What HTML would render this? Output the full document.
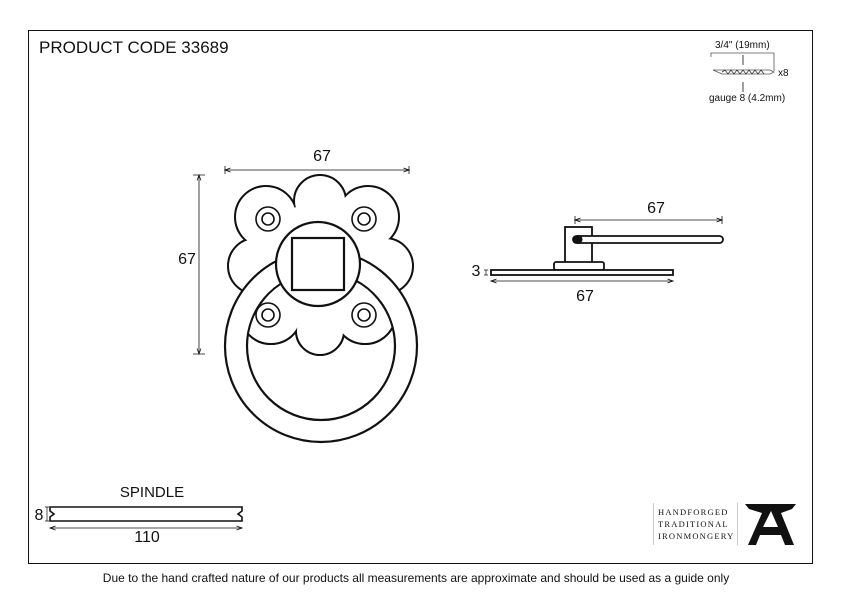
<!DOCTYPE html>
<html><head><style>
body{margin:0;width:842px;height:596px;background:#fff;overflow:hidden}
svg{display:block}
text{font-family:"Liberation Sans",sans-serif;fill:#111}
</style></head><body>
<svg width="842" height="596" viewBox="0 0 842 596">
<defs>
<marker id="a" markerWidth="8" markerHeight="6" refX="7" refY="3" orient="auto-start-reverse"><path d="M0,0.5 L7,3 L0,5.5" fill="none" stroke="#111" stroke-width="1"/></marker>
</defs>
<rect x="28.5" y="30.5" width="784" height="533" fill="none" stroke="#111" stroke-width="1"/>
<text x="39" y="53" font-size="17">PRODUCT CODE 33689</text>

<!-- screw legend -->
<text x="715" y="48" font-size="10">3/4" (19mm)</text>
<path d="M711,57 V53 H774 V71" fill="none" stroke="#555" stroke-width="0.8"/>
<path d="M743,55 V65" stroke="#111" stroke-width="0.8"/>
<path d="M713,70 L722,74 H770 L774,72 L770,70 H722 Z" fill="none" stroke="#555" stroke-width="0.8"/>
<path d="M722,72 l3,-2 l3,4 l3,-4 l3,4 l3,-4 l3,4 l3,-4 l3,4 l3,-4 l3,4 l3,-4 l3,4 l3,-4 l3,4" fill="none" stroke="#333" stroke-width="0.8"/>
<text x="778" y="76" font-size="10">x8</text>
<path d="M743,92 V82" stroke="#111" stroke-width="0.8"/>
<text x="709" y="101" font-size="10">gauge 8 (4.2mm)</text>

<!-- front view dims -->
<line x1="225" y1="170" x2="409" y2="170" stroke="#111" stroke-width="0.8" marker-start="url(#a)" marker-end="url(#a)"/>
<path d="M225,166V174M409,166V174" stroke="#111" stroke-width="0.8"/>
<text x="322" y="161" font-size="16" text-anchor="middle">67</text>
<line x1="199" y1="175" x2="199" y2="354" stroke="#111" stroke-width="0.8" marker-start="url(#a)" marker-end="url(#a)"/>
<path d="M193,175H205M193,354H205" stroke="#111" stroke-width="0.8"/>
<text x="187" y="264" font-size="16" text-anchor="middle">67</text>

<!-- plate union -->
<g stroke="#111" stroke-width="4" fill="#111">
<circle cx="320" cy="201" r="25"/><circle cx="266" cy="217" r="30"/><circle cx="368" cy="217" r="30"/>
<circle cx="256" cy="266" r="27"/><circle cx="385" cy="266" r="27"/>
<circle cx="271" cy="313" r="30"/><circle cx="365" cy="313" r="30"/><circle cx="320" cy="331" r="23"/>
<circle cx="318" cy="265" r="62"/>
</g>
<g fill="#fff">
<circle cx="320" cy="201" r="25"/><circle cx="266" cy="217" r="30"/><circle cx="368" cy="217" r="30"/>
<circle cx="256" cy="266" r="27"/><circle cx="385" cy="266" r="27"/>
<circle cx="271" cy="313" r="30"/><circle cx="365" cy="313" r="30"/><circle cx="320" cy="331" r="23"/>
<circle cx="318" cy="265" r="62"/>
</g>
<!-- holes -->
<g fill="none" stroke="#111" stroke-width="1.6">
<circle cx="268" cy="219" r="12"/><circle cx="268" cy="219" r="6"/>
<circle cx="364" cy="219" r="12"/><circle cx="364" cy="219" r="6"/>
</g>
<!-- ring -->
<path d="M225,346 a96,96 0 1,0 192,0 a96,96 0 1,0 -192,0 Z M247,346 a74,74 0 1,0 148,0 a74,74 0 1,0 -148,0 Z" fill="#fff" fill-rule="evenodd" stroke="#111" stroke-width="2.2"/>
<!-- re-draw plate inside inner ring -->
<clipPath id="ic"><circle cx="321" cy="346" r="73"/></clipPath>
<g clip-path="url(#ic)">
<g stroke="#111" stroke-width="4" fill="#111">
<circle cx="271" cy="313" r="30"/><circle cx="365" cy="313" r="30"/><circle cx="320" cy="331" r="23"/><circle cx="318" cy="265" r="62"/>
</g>
<g fill="#fff"><circle cx="271" cy="313" r="30"/><circle cx="365" cy="313" r="30"/><circle cx="320" cy="331" r="23"/><circle cx="318" cy="265" r="62"/></g>
</g>
<g fill="none" stroke="#111" stroke-width="1.6">
<circle cx="268" cy="315" r="12"/><circle cx="268" cy="315" r="6"/>
<circle cx="364" cy="315" r="12"/><circle cx="364" cy="315" r="6"/>
</g>
<circle cx="318" cy="264" r="42" fill="#fff" stroke="#111" stroke-width="2.2"/>
<rect x="292" y="238" width="52" height="52" fill="#fff" stroke="#111" stroke-width="2.2"/>

<!-- side view -->
<line x1="575" y1="220" x2="722" y2="220" stroke="#111" stroke-width="0.8" marker-start="url(#a)" marker-end="url(#a)"/>
<path d="M575,216V224M722,216V224" stroke="#111" stroke-width="0.8"/>
<text x="656" y="213" font-size="16" text-anchor="middle">67</text>
<rect x="565" y="227" width="27" height="36" fill="#fff" stroke="#111" stroke-width="1.8"/>
<rect x="573" y="236" width="150" height="7" rx="3.5" fill="#fff" stroke="#111" stroke-width="1.8"/>
<circle cx="578" cy="239.5" r="4.5" fill="#111"/>
<rect x="554" y="262" width="50" height="8" rx="2" fill="#fff" stroke="#111" stroke-width="1.8"/>
<rect x="491" y="270" width="182" height="5" fill="#fff" stroke="#111" stroke-width="1.8"/>
<text x="476" y="276" font-size="16" text-anchor="middle">3</text>
<path d="M486,270V275M484,270H488M484,275H488" stroke="#111" stroke-width="0.7"/>
<line x1="491" y1="281" x2="673" y2="281" stroke="#111" stroke-width="0.8" marker-start="url(#a)" marker-end="url(#a)"/>
<text x="585" y="301" font-size="16" text-anchor="middle">67</text>

<!-- spindle -->
<text x="152" y="497" font-size="15" text-anchor="middle">SPINDLE</text>
<path d="M50,507 H242 V511 L238,514 L242,517 V521 H50 V517 L54,514 L50,511 Z" fill="#fff" stroke="#111" stroke-width="1.6"/>
<text x="39" y="520" font-size="16" text-anchor="middle">8</text>
<path d="M47,507V521M45,507H49M45,521H49" stroke="#111" stroke-width="0.7"/>
<line x1="50" y1="528" x2="242" y2="528" stroke="#111" stroke-width="0.8" marker-start="url(#a)" marker-end="url(#a)"/>
<text x="147" y="542" font-size="16" text-anchor="middle">110</text>

<!-- logo -->
<path d="M653.5,503V545M737.5,503V545" stroke="#ccc" stroke-width="1"/>
<g font-family="Liberation Serif,serif" font-size="8.5" letter-spacing="1.2" fill="#444">
<text x="658" y="515" style="font-family:'Liberation Serif',serif">HANDFORGED</text>
<text x="658" y="527" style="font-family:'Liberation Serif',serif">TRADITIONAL</text>
<text x="658" y="539" style="font-family:'Liberation Serif',serif">IRONMONGERY</text>
</g>
<path d="M745,504 H796 L792,509 L781,513 L794,545 H785 L781,535 H760 L756,545 H748 L762,513 L749,509 Z M763,527 H778 L771,511 Z" fill="#111" fill-rule="evenodd"/>

<text x="416" y="582" font-size="12" text-anchor="middle">Due to the hand crafted nature of our products all measurements are approximate and should be used as a guide only</text>
</svg>
</body></html>
